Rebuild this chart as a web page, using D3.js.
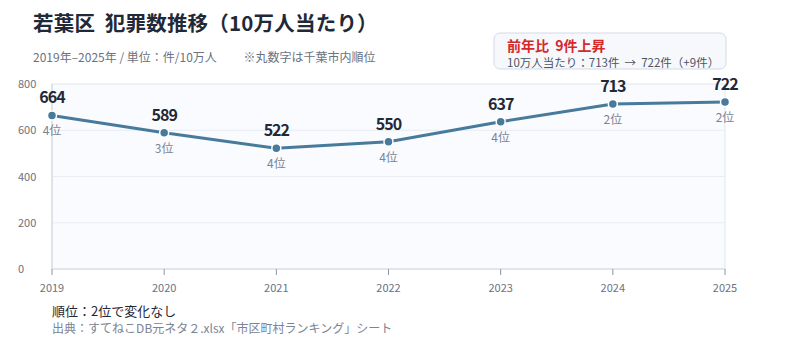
<!DOCTYPE html>
<html><head><meta charset="utf-8">
<script src="https://cdn.jsdelivr.net/npm/d3@7"></script>
<style>
html,body{margin:0;padding:0;background:#fff;}
svg text{font-family:"Noto Sans CJK JP","Noto Sans",sans-serif;white-space:pre;}
</style></head>
<body><svg id="c" width="800" height="347"></svg>
<script>
const years = ["2019","2020","2021","2022","2023","2024","2025"];
const values = [664,589,522,550,637,713,722];
const ranks = ["4位","3位","4位","4位","4位","2位","2位"];
const yTicks = [0,200,400,600,800];

const svg = d3.select("#c");
const m = {l:52, r:725, t:84, b:269};
const x = d3.scalePoint().domain(years).range([m.l,m.r]);
const y = d3.scaleLinear().domain([0,800]).range([m.b,m.t]);

svg.append("rect").attr("x",m.l).attr("y",m.t).attr("width",m.r-m.l).attr("height",m.b-m.t)
  .attr("fill","#f9fbfe").attr("stroke","#dfe5ee").attr("stroke-width",1);
svg.append("g").selectAll("line").data(yTicks.filter(d=>d>0&&d<800)).join("line")
  .attr("x1",m.l).attr("x2",m.r).attr("y1",d=>y(d)).attr("y2",d=>y(d))
  .attr("stroke","#e8edf3").attr("stroke-width",1);
svg.append("line").attr("x1",m.l).attr("x2",m.r).attr("y1",m.b).attr("y2",m.b).attr("stroke","#d3dae5").attr("stroke-width",1.2);
svg.append("line").attr("x1",m.l).attr("x2",m.l).attr("y1",m.t).attr("y2",m.b).attr("stroke","#d3dae5").attr("stroke-width",1.2);

// y labels
svg.append("g").selectAll("text").data(yTicks).join("text")
  .attr("x",18).attr("y",d=>y(d)+4).attr("font-size",11).attr("fill","#6b7280").text(d=>d);
// x ticks
svg.append("g").selectAll("line").data(years).join("line")
  .attr("x1",d=>x(d)).attr("x2",d=>x(d)).attr("y1",m.b).attr("y2",m.b+6).attr("stroke","#8a94a3").attr("stroke-width",1);
svg.append("g").selectAll("text").data(years).join("text")
  .attr("x",d=>x(d)).attr("y",292).attr("text-anchor","middle").attr("font-size",11).attr("fill","#6b7280").text(d=>d);

// line
const pts = years.map((d,i)=>({yr:d,v:values[i],r:ranks[i]}));
svg.append("path").datum(pts).attr("fill","none").attr("stroke","#477a9b").attr("stroke-width",3)
  .attr("d",d3.line().x(d=>x(d.yr)).y(d=>y(d.v)));
svg.append("g").selectAll("circle").data(pts).join("circle")
  .attr("cx",d=>x(d.yr)).attr("cy",d=>y(d.v)).attr("r",4.5)
  .attr("fill","#477a9b").attr("stroke","#fff").attr("stroke-width",1.5);
svg.append("g").selectAll("text").data(pts).join("text")
  .attr("x",d=>x(d.yr)).attr("y",d=>y(d.v)-12).attr("text-anchor","middle")
  .attr("font-size",16).attr("font-weight","bold").attr("fill","#1f2937").attr("letter-spacing",-1).text(d=>d.v);
svg.append("g").selectAll("text").data(pts).join("text")
  .attr("x",d=>x(d.yr)).attr("y",d=>y(d.v)+20).attr("text-anchor","middle")
  .attr("font-size",12).attr("fill","#7b8494").text(d=>d.r);

// title
svg.append("text").attr("x",33).attr("y",31).attr("font-size",20.5).attr("font-weight","bold").attr("fill","#1f2937")
  .attr("letter-spacing",0.2).text("若葉区  犯罪数推移（10万人当たり）");
svg.append("text").attr("x",33).attr("y",62).attr("font-size",12).attr("fill","#6b7280")
  .text("2019年–2025年 / 単位：件/10万人　　 ※丸数字は千葉市内順位");

// callout
svg.append("rect").attr("x",494).attr("y",33).attr("width",232).attr("height",36).attr("rx",6)
  .attr("fill","#f6f8fc").attr("stroke","#d3dae6").attr("stroke-width",1);
svg.append("text").attr("x",507).attr("y",51).attr("font-size",14).attr("font-weight","bold").attr("fill","#d62828")
  .text("前年比  9件上昇");
svg.append("text").attr("x",507).attr("y",67).attr("font-size",11.5).attr("fill","#4b5563")
  .text("10万人当たり：713件  →  722件（+9件）");

// footer
svg.append("text").attr("x",52).attr("y",316).attr("font-size",13).attr("fill","#1f2937").text("順位：2位で変化なし");
svg.append("text").attr("x",52).attr("y",333).attr("font-size",12).attr("fill","#7b8494")
  .text("出典：すてねこDB元ネタ２.xlsx「市区町村ランキング」シート");
</script></body></html>
